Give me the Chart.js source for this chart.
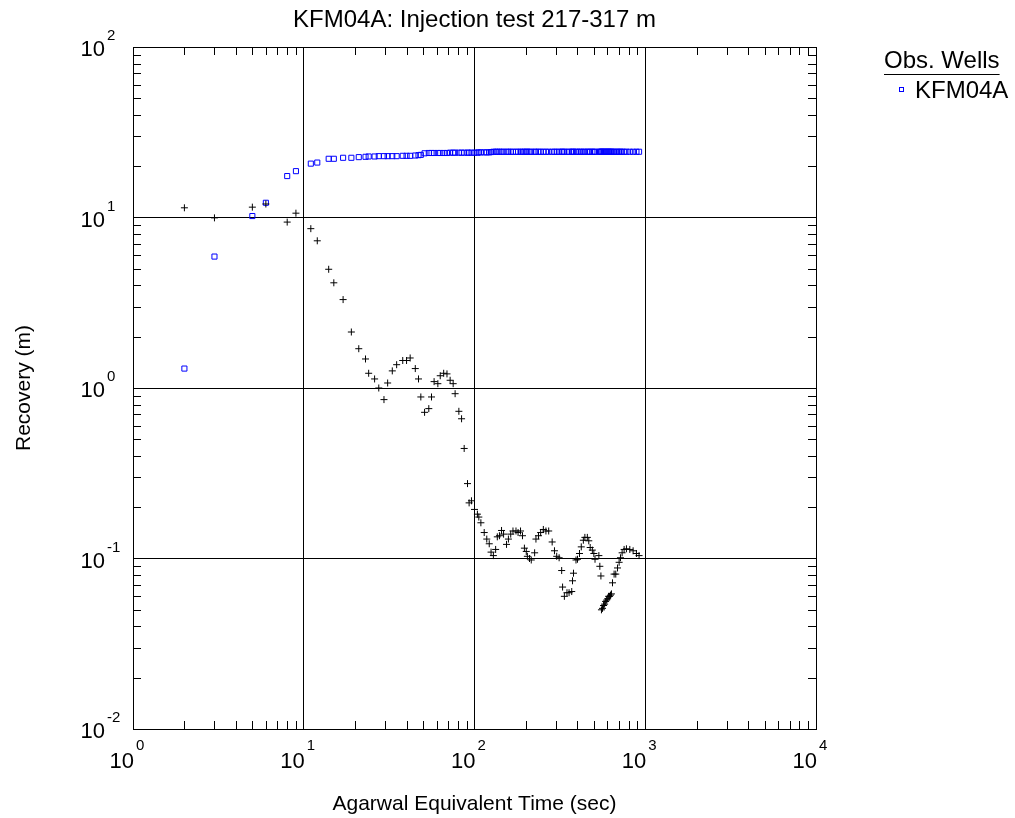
<!DOCTYPE html>
<html>
<head>
<meta charset="utf-8">
<script src="https://cdn.jsdelivr.net/npm/chart.js@4.4.0/dist/chart.umd.min.js"></script>
<style>
  html, body { margin: 0; padding: 0; background: #fff; }
  #wrap { width: 1015px; height: 818px; }
</style>
</head>
<body>
<div id="wrap"><canvas id="chart" width="1015" height="818"></canvas></div>
<script>
// Agarwal equivalent time (sec), shared by both series
const times = [
  2, 3, 5, 6, 8, 9, 11, 12, 14, 15,
  17, 19, 21, 23, 24, 26, 27.5, 29.5, 31, 33,
  35, 38, 40, 42, 45, 47, 48.5, 51, 54, 56,
  58, 61, 63, 66, 69, 72, 75, 77, 81, 84,
  87, 91, 93, 96, 100, 104, 106, 109, 114, 118,
  122, 125, 129, 133, 136, 140, 144, 148, 154, 158,
  163, 168, 175, 180, 186, 191, 196, 201, 204, 210,
  215, 225, 229, 237, 244, 253, 262, 272, 285, 294,
  303, 313, 324, 328, 336, 348, 358, 371, 375, 380,
  393, 401, 412, 422, 434, 443, 458, 467, 476, 490,
  500, 508, 535, 542, 550, 554, 562, 570, 578, 586,
  594, 602, 610, 618, 626, 634, 643, 657, 672, 688,
  703, 716, 732, 752, 776, 812, 849, 888, 920
];

// recovery (m), blue squares
const recovery = [
  1.30, 5.9, 10.2, 12.2, 17.5, 18.7, 20.7, 21.0, 22.1, 22.1,
  22.4, 22.4, 22.6, 22.7, 22.8, 22.8, 22.9, 22.9, 22.9, 22.9,
  22.9, 23.0, 23.0, 23.0, 23.1, 23.2, 23.3, 23.8, 23.9, 23.9,
  23.9, 23.9, 23.9, 23.9, 23.9, 24.0, 24.0, 24.0, 24.0, 24.0,
  24.0, 24.0, 24.0, 24.0, 24.0, 24.0, 24.1, 24.1, 24.1, 24.1,
  24.1, 24.2, 24.3, 24.3, 24.3, 24.3, 24.3, 24.3, 24.3, 24.3,
  24.3, 24.3, 24.3, 24.3, 24.3, 24.3, 24.3, 24.3, 24.3, 24.3,
  24.3, 24.3, 24.3, 24.3, 24.3, 24.3, 24.3, 24.3, 24.3, 24.3,
  24.3, 24.3, 24.3, 24.3, 24.3, 24.3, 24.3, 24.3, 24.3, 24.3,
  24.3, 24.3, 24.3, 24.3, 24.3, 24.3, 24.3, 24.3, 24.3, 24.3,
  24.3, 24.3, 24.3, 24.3, 24.3, 24.3, 24.3, 24.3, 24.3, 24.3,
  24.3, 24.3, 24.3, 24.3, 24.3, 24.3, 24.3, 24.3, 24.3, 24.3,
  24.3, 24.3, 24.3, 24.3, 24.3, 24.3, 24.3, 24.3, 24.3
];

// derivative (m), black crosses
const derivative = [
  11.4, 9.95, 11.5, 12.0, 9.4, 10.6, 8.6, 7.3, 4.97, 4.14,
  3.30, 2.13, 1.70, 1.48, 1.22, 1.13, 1.0, 0.855, 1.07, 1.26,
  1.37, 1.45, 1.45, 1.50, 1.30, 1.13, 0.886, 0.72, 0.757, 0.886,
  1.09, 1.06, 1.18, 1.22, 1.21, 1.11, 1.06, 0.926, 0.73, 0.66,
  0.442, 0.275, 0.212, 0.218, 0.194, 0.182, 0.175, 0.162, 0.142, 0.130,
  0.122, 0.109, 0.104, 0.113, 0.134, 0.136, 0.146, 0.139, 0.121, 0.130,
  0.139, 0.145, 0.145, 0.142, 0.145, 0.136, 0.115, 0.110, 0.103, 0.100,
  0.098, 0.108, 0.130, 0.136, 0.142, 0.148, 0.145, 0.145, 0.125, 0.111,
  0.103, 0.101, 0.085, 0.068, 0.060, 0.063, 0.063, 0.064, 0.074, 0.082,
  0.098, 0.099, 0.107, 0.117, 0.128, 0.133, 0.133, 0.127, 0.116, 0.112,
  0.107, 0.099, 0.104, 0.090, 0.079, 0.050, 0.051, 0.053, 0.054, 0.056,
  0.057, 0.058, 0.060, 0.060, 0.061, 0.062, 0.072, 0.081, 0.081, 0.088,
  0.095, 0.101, 0.108, 0.113, 0.114, 0.113, 0.111, 0.107, 0.104
];

const xDecades = [1, 10, 100, 1000, 10000];
const yDecades = [0.01, 0.1, 1, 10, 100];
const xExponents = ['0', '1', '2', '3', '4'];
const yExponents = ['-2', '-1', '0', '1', '2'];

const titleText = 'KFM04A: Injection test 217-317 m';
const xTitle = 'Agarwal Equivalent Time (sec)';
const yTitle = 'Recovery (m)';
const legendTitle = 'Obs. Wells';
const legendLabel = 'KFM04A';

const FONT = "'Liberation Sans', Arial, sans-serif";

const decoration = {
  id: 'decoration',
  afterDraw(chart) {
    const ctx = chart.ctx;
    const a = chart.chartArea;
    const xs = chart.scales.x, ys = chart.scales.y;
    ctx.save();

    // inward minor ticks on all four sides
    ctx.strokeStyle = '#000';
    ctx.lineWidth = 1;
    ctx.beginPath();
    for (let d = 0; d < xDecades.length - 1; d++) {
      for (let m = 2; m <= 9; m++) {
        const px = Math.round(xs.getPixelForValue(xDecades[d] * m)) + 0.5;
        ctx.moveTo(px, a.bottom); ctx.lineTo(px, a.bottom - 8);
        ctx.moveTo(px, a.top); ctx.lineTo(px, a.top + 8);
      }
    }
    for (let d = 0; d < yDecades.length - 1; d++) {
      for (let m = 2; m <= 9; m++) {
        const py = Math.round(ys.getPixelForValue(yDecades[d] * m)) + 0.5;
        ctx.moveTo(a.left, py); ctx.lineTo(a.left + 8, py);
        ctx.moveTo(a.right, py); ctx.lineTo(a.right - 8, py);
      }
    }
    ctx.stroke();
    ctx.strokeRect(Math.round(a.left) + 0.5, Math.round(a.top) + 0.5,
      Math.round(a.right - a.left), Math.round(a.bottom - a.top));

    ctx.fillStyle = '#000';
    // x tick labels
    xDecades.forEach((v, i) => {
      const px = xs.getPixelForValue(v);
      ctx.font = '22px ' + FONT;
      ctx.textAlign = 'right';
      ctx.fillText('10', px + 1, a.bottom + 39);
      ctx.font = '15px ' + FONT;
      ctx.textAlign = 'left';
      ctx.fillText(xExponents[i], px + 3, a.bottom + 21);
    });
    // y tick labels
    yDecades.forEach((v, i) => {
      const py = ys.getPixelForValue(v);
      ctx.font = '22px ' + FONT;
      ctx.textAlign = 'right';
      ctx.fillText('10', a.left - 28, py + 9);
      ctx.font = '15px ' + FONT;
      ctx.textAlign = 'left';
      ctx.fillText(yExponents[i], a.left - 26, py - 7);
    });

    // titles
    const cx = (a.left + a.right) / 2, cy = (a.top + a.bottom) / 2;
    ctx.textAlign = 'center';
    ctx.font = '24px ' + FONT;
    ctx.fillText(titleText, cx, 27);
    ctx.font = '21px ' + FONT;
    ctx.fillText(xTitle, cx, a.bottom + 81);
    ctx.save();
    ctx.translate(30, cy);
    ctx.rotate(-Math.PI / 2);
    ctx.fillText(yTitle, 0, 0);
    ctx.restore();

    // legend
    ctx.textAlign = 'left';
    ctx.font = '24px ' + FONT;
    const lx = 884;
    ctx.fillText(legendTitle, lx, 68);
    const w = ctx.measureText(legendTitle).width;
    ctx.beginPath();
    ctx.moveTo(lx, 74.5); ctx.lineTo(lx + w, 74.5);
    ctx.stroke();
    ctx.strokeStyle = '#0000ff';
    ctx.strokeRect(899.5, 87.5, 4, 4);
    ctx.fillText(legendLabel, 915, 98);
    ctx.restore();
  }
};

const recoveryPoints = times.map((t, i) => ({ x: t, y: recovery[i] }));
const derivativePoints = times.map((t, i) => ({ x: t, y: derivative[i] }));

new Chart(document.getElementById('chart'), {
  type: 'scatter',
  data: {
    datasets: [
      {
        label: 'KFM04A',
        data: recoveryPoints,
        pointStyle: 'rect',
        pointRadius: 3.6,
        borderColor: '#0000ff',
        backgroundColor: 'rgba(255,255,255,0)',
        borderWidth: 1,
        order: 2
      },
      {
        label: 'derivative',
        data: derivativePoints,
        pointStyle: 'cross',
        pointRadius: 3.5,
        borderColor: '#000',
        borderWidth: 1,
        order: 1
      }
    ]
  },
  options: {
    responsive: false,
    animation: false,
    events: [],
    layout: { padding: { top: 47, right: 199, bottom: 0, left: 0 } },
    plugins: {
      legend: { display: false },
      title: { display: false },
      tooltip: { enabled: false }
    },
    scales: {
      x: {
        type: 'logarithmic',
        min: 1, max: 10000,
        afterBuildTicks: s => { s.ticks = xDecades.map(v => ({ value: v })); },
        afterFit: s => { s.height = 89; },
        ticks: { display: false },
        grid: { color: '#000', lineWidth: 1, drawTicks: false },
        border: { display: true, color: '#000' }
      },
      y: {
        type: 'logarithmic',
        min: 0.01, max: 100,
        afterBuildTicks: s => { s.ticks = yDecades.map(v => ({ value: v })); },
        afterFit: s => { s.width = 133; },
        ticks: { display: false },
        grid: { color: '#000', lineWidth: 1, drawTicks: false },
        border: { display: true, color: '#000' }
      }
    }
  },
  plugins: [decoration]
});
</script>
</body>
</html>
